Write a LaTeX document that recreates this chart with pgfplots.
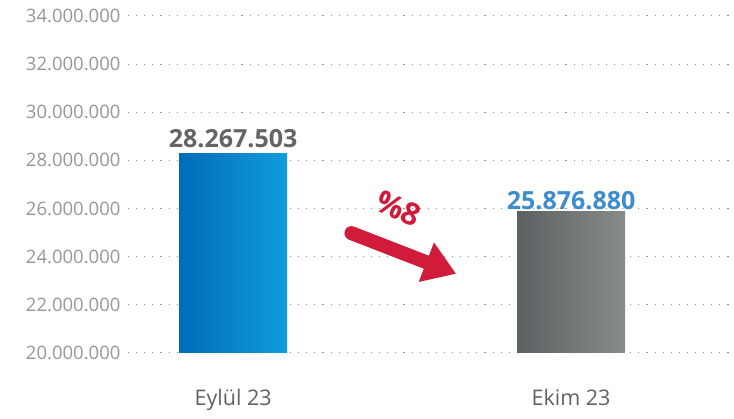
\documentclass[border=0pt]{standalone}
\usepackage{pgfplots}
\pgfplotsset{compat=1.18}
\usepackage{fontspec}
\setmainfont{Open Sans}
\usetikzlibrary{arrows.meta}
\definecolor{tickgray}{RGB}{150,150,152}
\definecolor{catgray}{RGB}{95,97,100}
\definecolor{valgray}{RGB}{98,100,104}
\definecolor{valblue}{RGB}{62,140,204}
\definecolor{blueL}{RGB}{0,108,184}
\definecolor{blueR}{RGB}{16,156,220}
\definecolor{grayL}{RGB}{93,96,98}
\definecolor{grayR}{RGB}{136,139,139}
\definecolor{arrowred}{RGB}{208,28,58}
\definecolor{gridgray}{RGB}{150,150,150}
\begin{document}
\begin{tikzpicture}[x=1pt,y=1pt]
\path[use as bounding box] (0,0) rectangle (734,419);
\begin{axis}[
  at={(128pt,66pt)}, anchor=south west,
  scale only axis, width=606pt, height=337pt,
  xmin=-0.311, xmax=1.482,
  ymin=20000000, ymax=34000000,
  axis line style={draw=none},
  major tick length=0pt,
  ytick={20000000,22000000,...,34000000},
  xtick={0,1}, xticklabels={Eylül 23, Ekim 23},
  ymajorgrids,
  major grid style={gridgray, line width=1pt, dash pattern=on 1.1pt off 7pt},
  yticklabel style={font=\fontsize{18.5}{21}\selectfont, text=tickgray, anchor=east, xshift=-4pt},
  xticklabel style={font=\fontsize{21.5}{24}\selectfont, text=catgray, anchor=north, yshift=-33pt},
  /pgf/number format/.cd, fixed, 1000 sep={.}, assume math mode=true,
  /pgfplots/.cd,
  scaled y ticks=false,
  clip=false,
]
\addplot[ybar, bar width=108pt, bar shift=0pt, draw=none, left color=blueL, right color=blueR,
  point meta=explicit symbolic, nodes near coords,
  nodes near coords style={font=\fontsize{25}{28}\selectfont\bfseries, text=valgray, anchor=south, yshift=3pt}]
  coordinates {(0,28267503) [28.267.503]};
\addplot[ybar, bar width=108pt, bar shift=0pt, draw=none, left color=grayL, right color=grayR,
  point meta=explicit symbolic, nodes near coords,
  nodes near coords style={font=\fontsize{25}{28}\selectfont\bfseries, text=valblue, anchor=south, yshift=-2pt}]
  coordinates {(1,25876880) [25.876.880]};
\draw[arrowred, line width=14pt, line cap=round,
  -{Triangle[length=32pt, width=40pt]}]
  (axis cs:0.35,24980000) -- (axis cs:0.66,23290000);
\node[text=arrowred, font=\fontsize{31}{33}\selectfont\bfseries, rotate=-24, inner sep=0pt]
  at (axis cs:0.49,26000000) {\%8};
\end{axis}
\end{tikzpicture}
\end{document}
